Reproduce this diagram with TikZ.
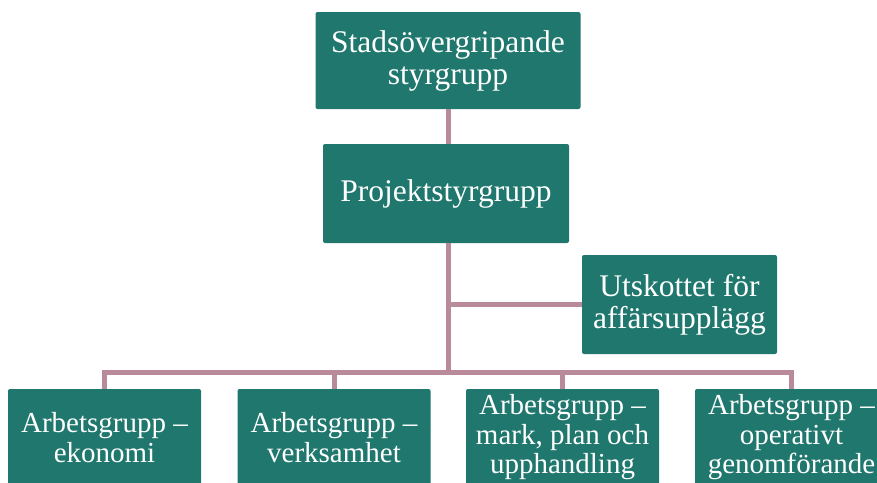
\documentclass[tikz,border=0pt]{standalone}
\usepackage{fontspec}
\setmainfont{Liberation Serif}
\definecolor{boxteal}{HTML}{1F776D}
\definecolor{linkmauve}{HTML}{B98A9A}
\tikzset{
  box/.style={fill=boxteal,text=white,rounded corners=2pt,inner sep=0pt,
    align=center,minimum height=97pt,font=\fontsize{31.5}{32}\selectfont},
  subbox/.style={box,minimum width=193pt,font=\fontsize{29}{29.5}\selectfont},
  link/.style={draw=linkmauve,line width=5pt}
}
\begin{document}
\begin{tikzpicture}[x=1pt,y=-1pt]
        \useasboundingbox (0,0) rectangle (877,482);
        \node[box,minimum width=265pt] (S) at (448,60.5) {Stadsövergripande\\styrgrupp};
        \node[box,minimum width=246pt,minimum height=99pt] (P) at (446,193.5) {Projektstyrgrupp};
        \node[box,minimum width=195pt,minimum height=99pt] (U) at (679.5,304.5) {Utskottet för\\affärsupplägg};
        \begin{scope}[every node/.style={subbox}]
            \node (A1) at (104.5,437.5) {Arbetsgrupp –\\ekonomi};
            \node (A2) at (334,437.5) {Arbetsgrupp –\\verksamhet};
            \node (A3) at (562.5,437.5) {Arbetsgrupp –\\mark, plan och\\upphandling};
            \node (A4) at (791.5,437.5) {Arbetsgrupp –\\operativt\\genomförande};
        \end{scope}
        \coordinate (bus) at (448,372);
        \draw [link] (S.south -| bus) -- (P.north -| bus);
        \draw [link] (P.south -| bus) -- (bus);
        \draw [link] (U.west -| bus) -- (U.west);
        \draw [link] (A1.north) |- (bus) -| (A4.north);
        \draw [link] (A2.north) -- (A2.north |- bus);
        \draw [link] (A3.north) -- (A3.north |- bus);
    \end{tikzpicture}
\end{document}
